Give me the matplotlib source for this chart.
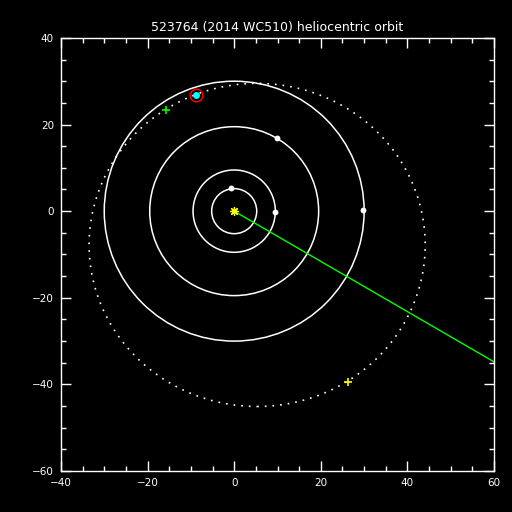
import matplotlib
matplotlib.use('Agg')
from matplotlib import pyplot as plt
from matplotlib.patches import Circle, Ellipse
from matplotlib.ticker import MultipleLocator

# 惑星軌道の半径 (AU)
planet_radii = [5.2, 9.5, 19.5, 30.0]
# 惑星の位置
planet_x = [-0.7, 9.4, 9.9, 29.7]
planet_y = [5.4, -0.2, 16.9, 0.3]

# 天体の軌道 (投影された楕円)
orbit_center = (5.3, -7.8)
orbit_width = 77.6
orbit_height = 74.6

# 天体の現在位置
obj_x, obj_y = -8.8, 26.8
# 緑の十字と黄色の十字
green_x, green_y = -15.8, 23.4
yellow_x, yellow_y = 26.3, -39.4
# 観測方向の線
line_x = [0, 60]
line_y = [0, -34.8]

title = '523764 (2014 WC510) heliocentric orbit'

fig = plt.figure(figsize=(5.12, 5.12), dpi=100, facecolor='black')
ax = fig.add_axes([0.119, 0.080, 0.846, 0.846], facecolor='black')

# 惑星の軌道
for r in planet_radii:
    ax.add_patch(Circle((0, 0), r, fill=False, edgecolor='white', linewidth=1.1))

# 天体の軌道 (点線)
ax.add_patch(Ellipse(orbit_center, orbit_width, orbit_height, fill=False,
                     edgecolor='white', linewidth=1.2, linestyle=(0, (1, 3.6))))

# 観測方向
ax.plot(line_x, line_y, color='#00ff00', linewidth=1)

# 惑星
ax.plot(planet_x, planet_y, 'o', color='white', markersize=4.2, markeredgewidth=0)

# 太陽
ax.plot(0, 0, marker=(8, 2, 0), color='yellow', markersize=6.5, markeredgewidth=0.9)

# 天体
ax.plot(obj_x, obj_y, 'o', markerfacecolor='none', markeredgecolor='red',
        markersize=9, markeredgewidth=1.1)
ax.plot(obj_x, obj_y, 'o', color='#00ffff', markersize=5, markeredgewidth=0)
ax.plot(green_x, green_y, '+', color='#00ff00', markersize=6, markeredgewidth=1.2)
ax.plot(yellow_x, yellow_y, '+', color='yellow', markersize=6, markeredgewidth=1.2)

ax.set_xlim(-40, 60)
ax.set_ylim(-60, 40)
ax.set_aspect('auto')

for s in ax.spines.values():
    s.set_color('white')
    s.set_linewidth(1)
ax.xaxis.set_major_locator(MultipleLocator(20))
ax.xaxis.set_minor_locator(MultipleLocator(5))
ax.yaxis.set_major_locator(MultipleLocator(20))
ax.yaxis.set_minor_locator(MultipleLocator(5))
ax.tick_params(which='both', direction='in', colors='white', top=True, right=True,
               labelsize=7.5, width=1)
ax.tick_params(which='major', length=7, pad=5)
ax.tick_params(which='minor', length=3.5)

ax.set_title(title, color='white', fontsize=9, pad=5)

plt.savefig('out.png', dpi=100, facecolor='black')
